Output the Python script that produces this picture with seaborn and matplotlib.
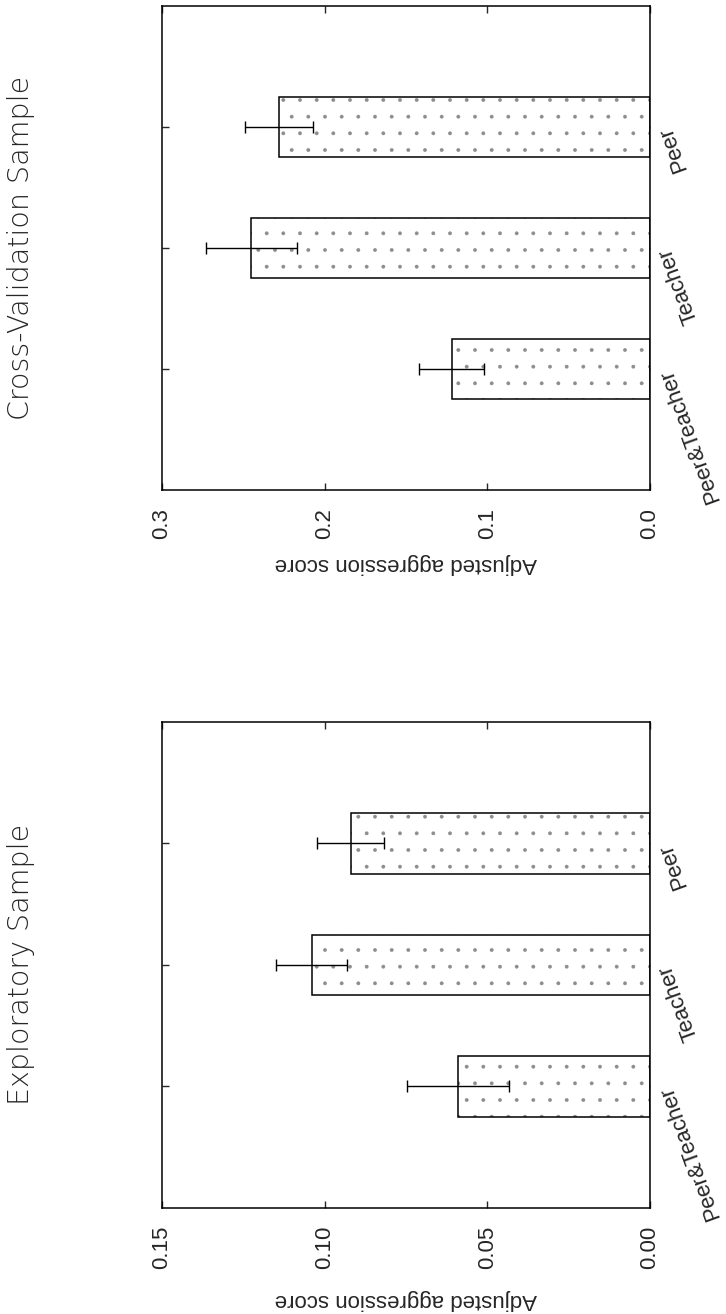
import pandas as pd
import seaborn as sns
import matplotlib
matplotlib.use('Agg')
import matplotlib.pyplot as plt

# order from top of each panel to bottom
categories = ["Peer", "Teacher", "Peer&Teacher"]

explor_vals = [0.092, 0.104, 0.059]
explor_err = [0.0103, 0.011, 0.0157]

cross_vals = [0.228, 0.245, 0.122]
cross_err = [0.021, 0.028, 0.020]

explor_ticks = [0.0, 0.05, 0.10, 0.15]
explor_ticklabels = ["0.00", "0.05", "0.10", "0.15"]
cross_ticks = [0.0, 0.1, 0.2, 0.3]
cross_ticklabels = ["0.0", "0.1", "0.2", "0.3"]

sns.set_style("ticks")
plt.rcParams['font.family'] = ['Liberation Sans', 'DejaVu Sans']
plt.rcParams['hatch.linewidth'] = 0.3
plt.rcParams['axes.linewidth'] = 1.1


def panel(ax, vals, errs, ticks, ticklabels, title, label_y):
    df = pd.DataFrame({"group": categories, "score": vals})
    # dotted fill
    sns.barplot(data=df, x="score", y="group", order=categories, orient="h",
                width=0.5, color="white", edgecolor="0.55", linewidth=0,
                hatch=".", errorbar=None, ax=ax)
    # outline on top
    sns.barplot(data=df, x="score", y="group", order=categories, orient="h",
                width=0.5, fill=False, color="black", linewidth=1.1,
                errorbar=None, ax=ax)
    ax.errorbar(vals, range(len(categories)), xerr=errs, fmt="none",
                ecolor="black", elinewidth=1.0, capsize=4, capthick=1.0)

    ax.set_xlim(ticks[-1], 0)
    ax.set_ylim(3, -1)
    ax.set_xticks(ticks)
    ax.set_xticklabels(ticklabels, fontsize=16)
    ax.tick_params(axis="x", direction="in", top=True, bottom=True, length=5,
                   width=1, labelrotation=90, pad=13)
    ax.tick_params(axis="y", direction="in", left=True, right=True,
                   labelleft=False, labelright=True, length=5, width=1, pad=11)
    ax.set_yticks(range(len(categories)))
    ax.set_yticklabels(categories, rotation=110, rotation_mode="anchor",
                       ha="right", va="center", fontsize=16)
    ax.set_ylabel("")
    ax.set_xlabel("Adjusted aggression score", rotation=180, fontsize=16)
    ax.xaxis.set_label_coords(0.5, label_y)
    for s in ax.spines.values():
        s.set_visible(True)
        s.set_color("black")
    ax.text(-0.289, 0.5, title, rotation=90, ha="center", va="center",
            fontsize=20.5, family="DejaVu Sans", weight="light",
            transform=ax.transAxes)


fig = plt.figure(figsize=(7.26, 13.14), dpi=100)
ax_top = fig.add_axes([0.2231, 0.6271, 0.6722, 0.3683])
ax_bot = fig.add_axes([0.2231, 0.0807, 0.6722, 0.3699])

panel(ax_top, cross_vals, cross_err, cross_ticks, cross_ticklabels,
      "Cross-Validation Sample", -0.130)
panel(ax_bot, explor_vals, explor_err, explor_ticks, explor_ticklabels,
      "Exploratory Sample", -0.167)

fig.savefig("out.png", dpi=100, facecolor="white")
